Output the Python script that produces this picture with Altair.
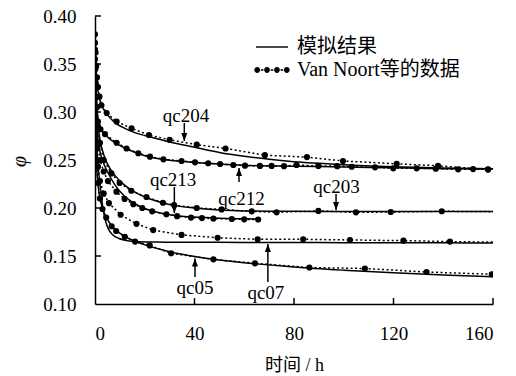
import altair as alt
import pandas as pd

# ---------------- data ----------------
series_names = ["qc204", "qc212", "qc203", "qc213", "qc07", "qc05"]

# model curves (solid)
m_qc204_t = [0, 0.3, 0.7, 1.2, 2, 3, 5, 8, 12, 16, 20, 25, 30, 40, 50, 60, 70, 80, 90, 100, 120, 140, 160]
m_qc204_p = [0.38, 0.352, 0.334, 0.322, 0.312, 0.305, 0.297, 0.289, 0.283, 0.2785, 0.2755, 0.2722, 0.2688,
             0.2633, 0.2578, 0.2538, 0.2507, 0.2483, 0.2465, 0.2450, 0.2430, 0.2417, 0.2408]
m_qc212_t = [0, 0.2, 0.5, 1, 1.8, 3, 5, 8, 12, 16, 20, 25, 30, 40, 50, 60, 80, 100, 120, 140, 160]
m_qc212_p = [0.375, 0.345, 0.318, 0.298, 0.287, 0.280, 0.274, 0.268, 0.2625, 0.2580, 0.2545, 0.2515, 0.2497,
             0.2475, 0.2458, 0.2445, 0.2435, 0.2428, 0.2418, 0.2410, 0.2405]
m_qc203_t = [0, 0.3, 0.7, 1.5, 3, 5, 8, 12, 16, 20, 25, 30, 40, 50, 60, 80, 100, 120, 140, 160]
m_qc203_p = [0.375, 0.335, 0.305, 0.28, 0.26, 0.246, 0.234, 0.2235, 0.2165, 0.2115, 0.207, 0.2035, 0.2, 0.198,
             0.197, 0.1965, 0.1963, 0.1963, 0.1963, 0.1963]
m_qc213_t = [0, 0.3, 0.7, 1.5, 3, 5, 8, 12, 16, 20, 25, 30, 40, 50, 60, 66]
m_qc213_p = [0.365, 0.32, 0.29, 0.266, 0.25, 0.238, 0.224, 0.212, 0.2045, 0.1995, 0.1955, 0.193, 0.1905,
             0.1893, 0.1887, 0.1884]
m_qc07_t = [0, 0.3, 0.7, 1.2, 2, 3.3, 4.3, 5.4, 7, 9.4, 12, 16, 25, 40, 60, 80, 100, 120, 140, 160]
m_qc07_p = [0.345, 0.295, 0.265, 0.245, 0.225, 0.198, 0.186, 0.178, 0.1725, 0.1685, 0.1665, 0.1652, 0.1645,
            0.1643, 0.1641, 0.164, 0.1639, 0.1638, 0.1637, 0.1636]
m_qc05_t = [0, 0.3, 0.7, 1.5, 3, 5, 8, 12, 16, 22, 30, 40, 50, 65, 80, 100, 120, 140, 160]
m_qc05_p = [0.325, 0.27, 0.242, 0.218, 0.2, 0.188, 0.178, 0.1705, 0.1655, 0.1600, 0.1545, 0.1495, 0.1458,
            0.1418, 0.1385, 0.1352, 0.1325, 0.1303, 0.1285]

# Van Noort et al. measurements (dotted with dots)
d_qc204_t = [0, 0.25, 0.5, 0.8, 1.2, 1.8, 2.6, 4.7, 8.7, 14.7, 21.7, 30, 40.9, 52.5, 68.3, 85.2, 99.7, 121.3, 137.9, 158]
d_qc204_p = [0.381, 0.362, 0.348, 0.336, 0.326, 0.316, 0.307, 0.299, 0.290, 0.283, 0.276, 0.271, 0.266, 0.262,
             0.255, 0.253, 0.249, 0.246, 0.244, 0.240]
d_qc212_t = [0, 0.2, 0.4, 0.7, 1.2, 2.2, 4, 8.7, 12.7, 17.4, 22.1, 27.5, 34.8, 40.2, 45.5, 50.3, 55.6, 60.3,
             66.3, 71, 76, 81, 89.8, 97.4, 103.2, 112.6, 119.9, 129.3, 137, 146, 152, 158]
d_qc212_p = [0.372, 0.345, 0.325, 0.305, 0.290, 0.282, 0.277, 0.268, 0.262, 0.257, 0.2535, 0.2507, 0.249,
             0.2476, 0.2466, 0.2458, 0.2448, 0.2441, 0.2438, 0.2438, 0.2436, 0.2448, 0.2438, 0.2436, 0.243,
             0.2424, 0.2413, 0.2413, 0.241, 0.2403, 0.2405, 0.2403]
d_qc203_t = [0, 0.3, 0.7, 1.2, 2, 3.5, 6.6, 9.9, 14.6, 20.7, 27.3, 31.8, 40.9, 50.9, 63, 73, 89.8, 104.9, 118.9, 139.4, 160]
d_qc203_p = [0.365, 0.33, 0.305, 0.285, 0.268, 0.25, 0.236, 0.226, 0.218, 0.2115, 0.2055, 0.203, 0.2, 0.1985,
             0.1965, 0.1955, 0.197, 0.1955, 0.1958, 0.1966, 0.1962]
d_qc213_t = [0, 0.3, 0.7, 1.2, 2, 3.5, 5.2, 8.6, 11.9, 15.4, 19, 23, 28.7, 33, 38.6, 43, 47.6, 55, 60, 65.6]
d_qc213_p = [0.355, 0.315, 0.285, 0.265, 0.25, 0.238, 0.228, 0.217, 0.2095, 0.204, 0.2, 0.1965, 0.1935, 0.1915,
             0.190, 0.1895, 0.189, 0.1885, 0.1882, 0.188]
d_qc07_t = [0, 0.3, 0.7, 1.2, 2, 3.5, 5.6, 10.3, 16.7, 23.4, 34.8, 49.3, 65.4, 83.7, 102.5, 124, 142.7, 160]
d_qc07_p = [0.335, 0.29, 0.262, 0.243, 0.228, 0.215, 0.205, 0.193, 0.1835, 0.177, 0.172, 0.169, 0.1674, 0.1674,
            0.1667, 0.166, 0.165, 0.1645]
d_qc05_t = [0, 0.3, 0.7, 1.2, 2, 3, 4.5, 6.7, 8.5, 12, 16.1, 22, 30.6, 47.6, 64.3, 86.2, 108.5, 133.3, 159.5]
d_qc05_p = [0.315, 0.27, 0.245, 0.226, 0.21, 0.199, 0.19, 0.181, 0.176, 0.17, 0.165, 0.161, 0.1528, 0.1465,
            0.1424, 0.138, 0.137, 0.1333, 0.131]
# the dotted line of these series runs on to t = 160 without a measured dot there
line_only_end = {"qc203": 160, "qc07": 160}

# annotations
labels = ["qc204", "qc212", "qc213", "qc203", "qc07", "qc05"]
label_t = [36.6, 58.9, 31.4, 97.1, 68.7, 40.2]
label_p = [0.2958, 0.2094, 0.2292, 0.2219, 0.1115, 0.1167]
arrow_t = [35.9, 57.9, 31.9, 96.9, 69.5, 40.2]
arrow_base = [0.2885, 0.2271, 0.2219, 0.2146, 0.1229, 0.1281]
arrow_tip = [0.2698, 0.2417, 0.1948, 0.1979, 0.1625, 0.1474]

x_ticks = [0, 40, 80, 120, 160]
y_ticks = [0.10, 0.15, 0.20, 0.25, 0.30, 0.35, 0.40]
legend_labels = ["模拟结果", "Van Noort等的数据"]

# ---------------- tables ----------------
model_sets = {"qc204": (m_qc204_t, m_qc204_p), "qc212": (m_qc212_t, m_qc212_p),
              "qc203": (m_qc203_t, m_qc203_p), "qc213": (m_qc213_t, m_qc213_p),
              "qc07": (m_qc07_t, m_qc07_p), "qc05": (m_qc05_t, m_qc05_p)}
data_sets = {"qc204": (d_qc204_t, d_qc204_p), "qc212": (d_qc212_t, d_qc212_p),
             "qc203": (d_qc203_t, d_qc203_p), "qc213": (d_qc213_t, d_qc213_p),
             "qc07": (d_qc07_t, d_qc07_p), "qc05": (d_qc05_t, d_qc05_p)}

model_df = pd.DataFrame([{"series": s, "t": t, "phi": p}
                         for s, (ts, ps) in model_sets.items() for t, p in zip(ts, ps)])
data_df = pd.DataFrame([{"series": s, "t": t, "phi": p,
                         "dot": not (s in line_only_end and t == line_only_end[s])}
                        for s, (ts, ps) in data_sets.items() for t, p in zip(ts, ps)])

label_df = pd.DataFrame({"label": labels, "t": label_t, "phi": label_p})
arrow_df = pd.DataFrame({"label": labels, "t": arrow_t, "phi": arrow_base, "phi2": arrow_tip})
arrow_df["down"] = arrow_df["phi2"] < arrow_df["phi"]
head_df = pd.DataFrame({"t": arrow_t, "phi": arrow_tip, "down": list(arrow_df["down"])})

ytick_df = pd.DataFrame({"phi": y_ticks[1:], "t": [0] * (len(y_ticks) - 1), "t2": [2.4] * (len(y_ticks) - 1)})
xtick_df = pd.DataFrame({"t": x_ticks[1:], "phi": [0.10] * (len(x_ticks) - 1),
                         "phi2": [0.10625] * (len(x_ticks) - 1)})
legend_df = pd.DataFrame({"kind": legend_labels, "t": [-40, -40], "phi": [0.3, 0.3]})

# ---------------- style ----------------
FONT = "Liberation Serif, Noto Sans CJK SC"
x_scale = alt.Scale(domain=[0, 160], nice=False, zero=False)
y_scale = alt.Scale(domain=[0.10, 0.40], nice=False, zero=False)

x_axis = alt.Axis(values=x_ticks, format="d", labelFont=FONT, labelFontSize=19, labelColor="black",
                  labelPadding=20, ticks=False, tickSize=0, domainColor="black", domainWidth=1.5, grid=False,
                  title="时间 / h", titleFont=FONT, titleFontSize=18, titleFontWeight="normal",
                  titleColor="black", titleX=199, titleY=61, titleBaseline="middle", titleAlign="center")
y_axis = alt.Axis(values=y_ticks, format=".2f", labelFont=FONT, labelFontSize=19, labelColor="black",
                  labelPadding=19, ticks=False, tickSize=0, domainColor="black", domainWidth=1.5, grid=False,
                  title="φ", titleFont="Liberation Serif", titleFontStyle="italic", titleFontSize=20,
                  titleFontWeight="normal", titleColor="black", titleAngle=270, titleX=-76, titleY=145,
                  titleBaseline="middle", titleAlign="center")

X = alt.X("t:Q", scale=x_scale, axis=x_axis)
Y = alt.Y("phi:Q", scale=y_scale, axis=y_axis)


def circ(cx, r=0.36):
    return f"M{cx - r},0A{r},{r} 0 1,0 {cx + r},0A{r},{r} 0 1,0 {cx - r},0Z"


def bar(x0, x1, h=0.09):
    return f"M{x0},{-h}H{x1}V{h}H{x0}Z"


path_solid = bar(-2, 2)
path_dots = (circ(-1.85) + circ(-0.62) + circ(0.62) + circ(1.85)
             + bar(-1.4, -1.07) + bar(-0.16, 0.16) + bar(1.07, 1.4))

model = alt.Chart(model_df).mark_line(color="black", strokeWidth=1.5, interpolate="monotone",
                                      clip=True).encode(x=X, y=Y, detail="series:N")
data_line = alt.Chart(data_df).mark_line(color="black", strokeWidth=1.5, strokeDash=[2, 2.5],
                                         clip=True).encode(x=X, y=Y, detail="series:N")
data_pts = alt.Chart(data_df).transform_filter("datum.dot").mark_circle(
    color="black", size=38, opacity=1, clip=True).encode(x=X, y=Y)

yticks = alt.Chart(ytick_df).mark_rule(color="black", strokeWidth=1.5).encode(x=X, x2="t2:Q", y=Y)
xticks = alt.Chart(xtick_df).mark_rule(color="black", strokeWidth=1.5).encode(x=X, y=Y, y2="phi2:Q")

shafts = alt.Chart(arrow_df).mark_rule(color="black", strokeWidth=1.5).encode(x=X, y=Y, y2="phi2:Q")
heads_down = alt.Chart(head_df).transform_filter("datum.down").mark_point(
    shape="M0,0L-0.38,-1L0.38,-1Z", filled=True, color="black", size=256, opacity=1).encode(x=X, y=Y)
heads_up = alt.Chart(head_df).transform_filter("!datum.down").mark_point(
    shape="M0,0L-0.38,1L0.38,1Z", filled=True, color="black", size=256, opacity=1).encode(x=X, y=Y)

texts = alt.Chart(label_df).mark_text(font="Liberation Serif", fontSize=19, color="black", align="center",
                                      baseline="middle").encode(x=X, y=Y, text="label:N")

legend_layer = alt.Chart(legend_df).mark_point(
    filled=True, color="black", opacity=1, clip=True).encode(
    x=X, y=Y,
    shape=alt.Shape("kind:N", scale=alt.Scale(domain=legend_labels, range=[path_solid, path_dots]),
                    legend=alt.Legend(title=None, orient="none", legendX=167, legendY=21, padding=0,
                                      labelFont=FONT, labelFontSize=20, labelColor="black", labelLimit=400,
                                      symbolSize=256, symbolFillColor="black", symbolStrokeColor="black",
                                      symbolStrokeWidth=0, symbolOpacity=1, labelOffset=15,
                                      rowPadding=3)))

chart = alt.layer(model, data_line, data_pts, yticks, xticks, shafts, heads_down, heads_up, texts,
                  legend_layer).properties(
    width=398, height=288,
    autosize=alt.AutoSizeParams(type="none"),
    padding={"left": 95, "top": 16, "right": 23, "bottom": 72},
    background="white",
).configure_view(strokeWidth=0)

chart.save("out.html", embed_options={"renderer": "svg", "actions": False})
